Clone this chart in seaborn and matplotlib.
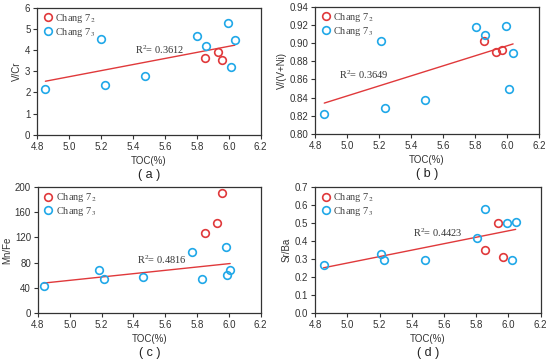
import numpy as np
import pandas as pd
import matplotlib
matplotlib.use('Agg')
import matplotlib.pyplot as plt
import seaborn as sns

# values
# (a) V/Cr
toc_a_72 = [5.85, 5.93, 5.96]
vcr_72   = [3.65, 3.91, 3.53]
toc_a_73 = [4.85, 5.20, 5.225, 5.475, 5.80, 5.86, 5.995, 6.013, 6.038]
vcr_73   = [2.17, 4.53, 2.36, 2.77, 4.65, 4.21, 5.27, 3.18, 4.49]
# (b) V/(V+Ni)
toc_b_72 = [5.855, 5.931, 5.966]
vni_72   = [0.902, 0.890, 0.892]
toc_b_73 = [4.857, 5.212, 5.236, 5.484, 5.804, 5.861, 5.995, 6.013, 6.038]
vni_73   = [0.822, 0.902, 0.829, 0.837, 0.918, 0.909, 0.919, 0.849, 0.889]
# (c) Mn/Fe
toc_c_72 = [5.848, 5.923, 5.956]
mnfe_72  = [126.8, 143.2, 190.5]
toc_c_73 = [4.835, 5.183, 5.216, 5.461, 5.771, 5.833, 5.983, 5.991, 6.008]
mnfe_73  = [42.6, 68.4, 54.2, 56.8, 96.3, 54.2, 104.2, 60.5, 69.0]
# (d) Sr/Ba
toc_d_72 = [5.857, 5.937, 5.968]
srba_72  = [0.348, 0.501, 0.313]
toc_d_73 = [4.852, 5.211, 5.230, 5.480, 5.803, 5.857, 5.993, 6.020, 6.045]
srba_73  = [0.267, 0.330, 0.297, 0.297, 0.416, 0.575, 0.501, 0.295, 0.503]

r2_labels = ['0.3612', '0.3649', '0.4816', '0.4423']
ylabels   = ['V/Cr', 'V/(V+Ni)', 'Mn/Fe', 'Sr/Ba']
captions  = ['( a )', '( b )', '( c )', '( d )']
groups    = ['Chang 7$_2$', 'Chang 7$_3$']
# trend line in (a),(b) uses all samples, in (c),(d) only Chang 7_3
fit_all   = [True, True, False, False]

sns.set_style('ticks')
plt.rcParams['font.family'] = ['Liberation Sans', 'DejaVu Sans']
plt.rcParams['mathtext.fontset'] = 'stix'
plt.rcParams['xtick.direction'] = 'out'
plt.rcParams['ytick.direction'] = 'out'

RED, BLUE = '#e0393b', '#20a8e8'
serif = ['Liberation Serif', 'DejaVu Serif']

fig = plt.figure(figsize=(5.5, 3.61), dpi=100)
pos = [[0.068, 0.627, 0.406, 0.351], [0.573, 0.629, 0.407, 0.352],
       [0.069, 0.133, 0.405, 0.349], [0.573, 0.133, 0.410, 0.349]]

panels = [
    (toc_a_72, vcr_72, toc_a_73, vcr_73, (0, 6), np.arange(0, 7, 1), '%d', (5.41, 4.02)),
    (toc_b_72, vni_72, toc_b_73, vni_73, (0.80, 0.94), np.arange(0.80, 0.945, 0.02), '%.2f', (4.95, 0.8655)),
    (toc_c_72, mnfe_72, toc_c_73, mnfe_73, (0, 200), np.arange(0, 201, 40), '%d', (5.42, 84)),
    (toc_d_72, srba_72, toc_d_73, srba_73, (0, 0.7), np.arange(0, 0.71, 0.1), '%.1f', (5.41, 0.445)),
]

for i, (x2, y2, x3, y3, ylim, yt, fmt, rpos) in enumerate(panels):
    ax = fig.add_axes(pos[i])
    df = pd.DataFrame({'TOC': x2 + x3, 'val': y2 + y3,
                       'grp': [groups[0]] * len(x2) + [groups[1]] * len(x3)})
    fit_df = df if fit_all[i] else df[df.grp == groups[1]]
    sns.regplot(data=fit_df, x='TOC', y='val', scatter=False, ci=None, ax=ax,
                line_kws=dict(color=RED, lw=1.0))
    for g, c in zip(groups, [RED, BLUE]):
        d = df[df.grp == g]
        ax.plot(d.TOC, d.val, 'o', ms=5.5, mfc='none', mec=c, mew=1.2, label=g)
    ax.set_xlim(4.8, 6.2)
    ax.set_xticks(np.arange(4.8, 6.21, 0.2))
    ax.set_xticklabels(['%.1f' % v for v in np.arange(4.8, 6.21, 0.2)])
    ax.set_ylim(*ylim)
    ax.set_yticks(yt)
    ax.set_yticklabels([fmt % v for v in yt])
    ax.tick_params(labelsize=7, length=3, width=0.8, colors='#333333', pad=2)
    for s in ax.spines.values():
        s.set_linewidth(0.9)
        s.set_color('#333333')
    ax.set_xlabel('TOC(%)', fontsize=7, labelpad=3, color='#333333')
    ax.set_ylabel(ylabels[i], fontsize=7, labelpad=2, color='#333333')
    ax.text(rpos[0], rpos[1], '$\\mathregular{R^2}$= ' + r2_labels[i], fontsize=7.5,
            family=serif, color='#333333', va='center')
    leg = ax.legend(loc='upper left', frameon=False, handletextpad=0.1,
                    labelspacing=0.05, borderaxespad=0.1, borderpad=0.3, handlelength=1.2,
                    prop=dict(family=serif, size=7.5))
    for t in leg.get_texts():
        t.set_color('#444444')
    ax.text(0.5, -0.315, captions[i], transform=ax.transAxes, ha='center', va='center',
            fontsize=9, color='#222222')

fig.savefig('out.png', dpi=100)
